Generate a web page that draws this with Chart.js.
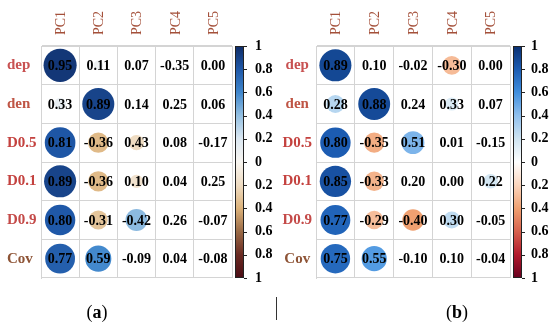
<!DOCTYPE html>
<html>
<head>
<meta charset="utf-8">
<script src="https://cdn.jsdelivr.net/npm/chart.js@4.4.1/dist/chart.umd.min.js"></script>
<style>
  html, body { margin: 0; padding: 0; background: #fff; }
  #wrap { position: relative; width: 550px; height: 325px; }
  .panel { position: absolute; top: 0; width: 275px; height: 325px; }
</style>
</head>
<body>
<div id="wrap">
  <div class="panel" style="left:0"><canvas id="chartA"></canvas></div>
  <div class="panel" style="left:275px"><canvas id="chartB"></canvas></div>
</div>
<script>
// Variables (rows) et composantes (colonnes)
const rows = ['dep', 'den', 'D0.5', 'D0.1', 'D0.9', 'Cov'];
const cols = ['PC1', 'PC2', 'PC3', 'PC4', 'PC5'];
const rowColors = ['#c85252', '#bf5545', '#c4423f', '#c4423f', '#c44a48', '#8e5436'];
const barTicks = [-1, -0.8, -0.6, -0.4, -0.2, 0, 0.2, 0.4, 0.6, 0.8, 1];

// Corrélations affichées (a)
const valuesA = [
    [0.95, 0.11, 0.07, -0.35, 0.00],
    [0.33, 0.89, 0.14, 0.25, 0.06],
    [0.81, -0.36, 0.43, 0.08, -0.17],
    [0.89, -0.36, 0.10, 0.04, 0.25],
    [0.80, -0.31, -0.42, 0.26, -0.07],
    [0.77, 0.59, -0.09, 0.04, -0.08]
];
// Cercles visibles (a) : null = pas de cercle
const circlesA = [
    [0.95, 0.08, null, null, null],
    [0.12, 0.89, null, null, null],
    [0.81, -0.36, -0.2, null, null],
    [0.89, -0.36, -0.15, null, null],
    [0.80, -0.31, 0.42, null, null],
    [0.77, 0.59, null, null, null]
];

// Corrélations affichées (b)
const valuesB = [
    [0.89, 0.10, -0.02, -0.30, 0.00],
    [0.28, 0.88, 0.24, 0.33, 0.07],
    [0.80, -0.35, 0.51, 0.01, -0.15],
    [0.85, -0.33, 0.20, 0.00, 0.22],
    [0.77, -0.29, -0.40, 0.30, -0.05],
    [0.75, 0.55, -0.10, 0.10, -0.04]
];
const circlesB = [
    [0.89, null, null, -0.30, null],
    [0.28, 0.88, null, 0.15, null],
    [0.80, -0.35, 0.45, null, null],
    [0.85, -0.33, null, null, 0.18],
    [0.77, -0.29, -0.40, 0.25, null],
    [0.75, 0.55, null, null, null]
];

// Palettes de -1 à 1 (pas de 0.2)
const paletteA = ['#4a0c14', '#6a2a22', '#9a6a46', '#dcb27a', '#efdcc2', '#f8f5f0',
                  '#dce8f2', '#94c0e2', '#3f86cc', '#1f58a8', '#0f2c66'];
const paletteB = ['#67001f', '#b2182b', '#d6604d', '#f0a070', '#fbd5bd', '#ffffff',
                  '#cfe4f2', '#90c0ee', '#3f8ede', '#1c5cb2', '#0a2f70'];

function hexToRgb(h) {
    return [parseInt(h.slice(1, 3), 16), parseInt(h.slice(3, 5), 16), parseInt(h.slice(5, 7), 16)];
}

function colorFor(palette, v) {
    const t = (Math.max(-1, Math.min(1, v)) + 1) / 2 * (palette.length - 1);
    const i = Math.min(Math.floor(t), palette.length - 2);
    const f = t - i;
    const a = hexToRgb(palette[i]), b = hexToRgb(palette[i + 1]);
    const c = a.map((x, k) => Math.round(x + (b[k] - x) * f));
    return `rgb(${c[0]}, ${c[1]}, ${c[2]})`;
}

const SERIF = "'Liberation Serif', 'DejaVu Serif', serif";

// Nombres dans les cellules + barre de couleur + légende (a)/(b)
const corrPlugin = {
    id: 'corrPlugin',
    afterDatasetsDraw(chart, args, opts) {
        const ctx = chart.ctx;
        const xs = chart.scales.x, ys = chart.scales.y;
        ctx.save();
        ctx.font = `bold 14px ${SERIF}`;
        ctx.fillStyle = '#000';
        ctx.textAlign = 'center';
        ctx.textBaseline = 'middle';
        opts.values.forEach((row, i) => {
            row.forEach((v, j) => {
                ctx.fillText(v.toFixed(2), xs.getPixelForValue(j), ys.getPixelForValue(i) + 1);
            });
        });
        ctx.restore();
    },
    afterDraw(chart, args, opts) {
        const ctx = chart.ctx;
        const area = chart.chartArea;
        const cb = chart.scales.cb;
        const x0 = area.right + opts.barGap, x1 = x0 + opts.barWidth;
        const top = cb.getPixelForValue(1), bottom = cb.getPixelForValue(-1);
        ctx.save();
        const grad = ctx.createLinearGradient(0, bottom, 0, top);
        opts.palette.forEach((c, k) => grad.addColorStop(k / (opts.palette.length - 1), c));
        ctx.fillStyle = grad;
        ctx.fillRect(x0, top, x1 - x0, bottom - top);
        ctx.strokeStyle = '#222';
        ctx.lineWidth = 1;
        ctx.strokeRect(x0 + 0.5, top + 0.5, x1 - x0 - 1, bottom - top - 1);
        barTicks.forEach(t => {
            const y = Math.round(cb.getPixelForValue(t)) + 0.5;
            ctx.beginPath();
            ctx.moveTo(x1, y);
            ctx.lineTo(x1 + 3, y);
            ctx.stroke();
        });

        // légende (a) / (b)
        ctx.fillStyle = '#000';
        ctx.textBaseline = 'alphabetic';
        const cx = opts.captionX, cy = 318;
        ctx.font = `18px ${SERIF}`;
        const wp = ctx.measureText('(').width;
        ctx.font = `bold 18px ${SERIF}`;
        const wl = ctx.measureText(opts.caption).width;
        let x = cx - (2 * wp + wl) / 2;
        ctx.font = `18px ${SERIF}`;
        ctx.textAlign = 'left';
        ctx.fillText('(', x, cy);
        ctx.font = `bold 18px ${SERIF}`;
        ctx.fillText(opts.caption, x + wp, cy);
        ctx.font = `18px ${SERIF}`;
        ctx.fillText(')', x + wp + wl, cy);

        if (opts.divider) {
            ctx.strokeStyle = '#333';
            ctx.beginPath();
            ctx.moveTo(1.5, 297);
            ctx.lineTo(1.5, 320);
            ctx.stroke();
        }
        ctx.restore();
    }
};

function renderCorrChart(canvasId, values, circles, palette, cfg) {
    const canvas = document.getElementById(canvasId);
    if (!canvas) {
        console.error('Canvas non trouvé : ' + canvasId);
        return;
    }
    const bubbles = [];
    circles.forEach((row, i) => {
        row.forEach((v, j) => {
            if (v === null) return;
            bubbles.push({ x: cols[j], y: rows[i], r: 17 * Math.sqrt(Math.abs(v)), v: v });
        });
    });

    return new Chart(canvas.getContext('2d'), {
        type: 'bubble',
        data: {
            datasets: [{
                data: bubbles,
                backgroundColor: c => colorFor(palette, c.raw ? c.raw.v : 0),
                borderWidth: 0,
                hoverRadius: 0
            }]
        },
        plugins: [corrPlugin],
        options: {
            responsive: true,
            maintainAspectRatio: false,
            animation: false,
            events: [],
            layout: { padding: { left: cfg.padLeft, top: 0, right: 0, bottom: 47 } },
            plugins: {
                legend: { display: false },
                tooltip: { enabled: false },
                corrPlugin: {
                    values: values,
                    palette: palette,
                    barGap: 3,
                    barWidth: 9,
                    caption: cfg.caption,
                    captionX: cfg.captionX,
                    divider: cfg.divider
                }
            },
            scales: {
                x: {
                    type: 'category',
                    labels: cols,
                    position: 'top',
                    offset: true,
                    grid: { offset: true, color: '#d4d4d4', drawTicks: false },
                    border: { color: '#d4d4d4' },
                    ticks: {
                        minRotation: 90,
                        maxRotation: 90,
                        padding: 11,
                        labelOffset: 18,
                        color: '#a4503a',
                        font: { family: SERIF, size: 14 }
                    },
                    afterFit: s => { s.height = 46; }
                },
                y: {
                    type: 'category',
                    labels: rows,
                    offset: true,
                    grid: { offset: true, color: '#d4d4d4', drawTicks: false },
                    border: { color: '#d4d4d4' },
                    ticks: {
                        crossAlign: cfg.crossAlign,
                        padding: 4,
                        color: c => rowColors[c.index],
                        font: { family: SERIF, size: 15, weight: 'bold' }
                    },
                    afterFit: s => { s.width = cfg.yWidth; }
                },
                cb: {
                    type: 'linear',
                    position: 'right',
                    min: -1,
                    max: 1,
                    grid: { display: false },
                    border: { display: false },
                    afterBuildTicks: s => { s.ticks = barTicks.map(v => ({ value: v })); },
                    ticks: {
                        padding: cfg.cbPad,
                        color: '#000',
                        font: { family: SERIF, size: 14, weight: 'bold' },
                        callback: v => String(Math.abs(Math.round(v * 10) / 10))
                    },
                    afterFit: s => { s.width = cfg.cbWidth; }
                }
            }
        }
    });
}

document.addEventListener('DOMContentLoaded', () => {
    if (typeof Chart === 'undefined') {
        console.error("Chart.js n'est pas chargé !");
        return;
    }
    renderCorrChart('chartA', valuesA, circlesA, paletteA, {
        padLeft: 7, yWidth: 34, crossAlign: 'far', cbWidth: 43, cbPad: 15,
        caption: 'a', captionX: 97, divider: false
    });
    renderCorrChart('chartB', valuesB, circlesB, paletteB, {
        padLeft: 5, yWidth: 36, crossAlign: 'center', cbWidth: 40, cbPad: 13,
        caption: 'b', captionX: 182, divider: true
    });
});
</script>
</body>
</html>
